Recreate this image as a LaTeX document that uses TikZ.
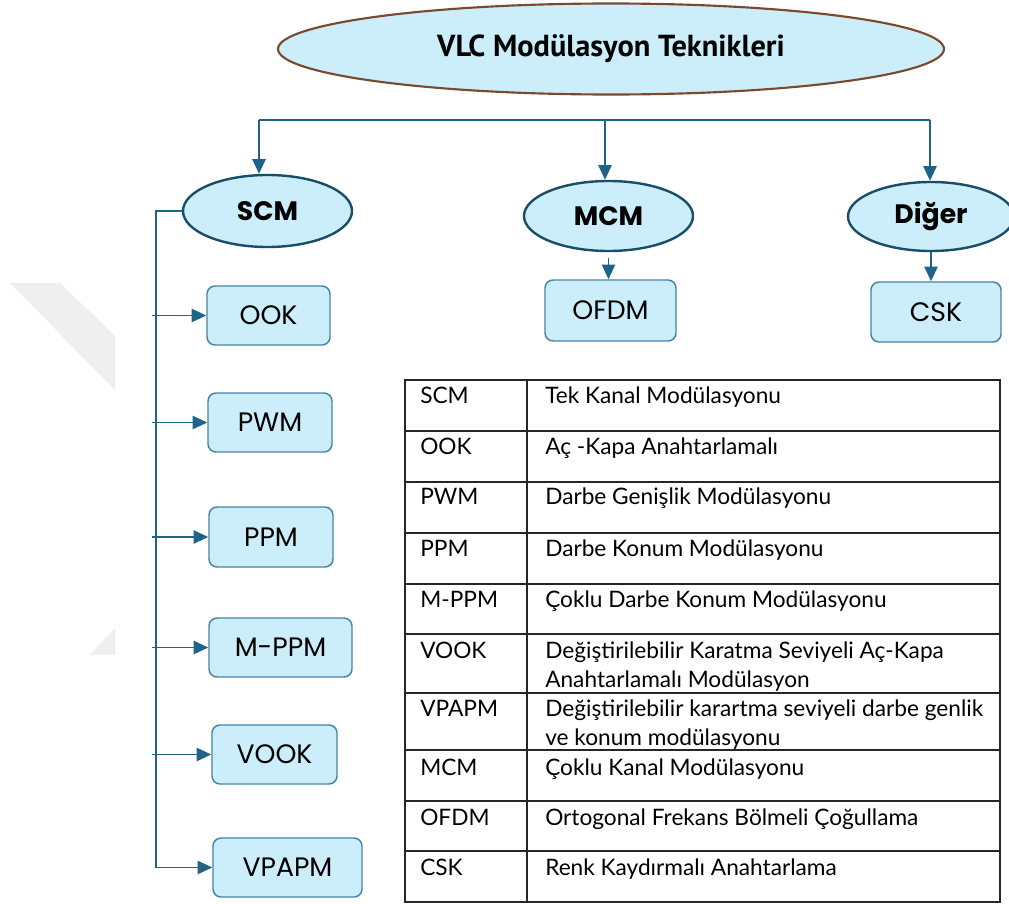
\documentclass[tikz,border=0pt]{standalone}
\usepackage{fontspec}
\setmainfont{Lato}
\newfontfamily\boxfont{Poppins}
\newfontfamily\titlefont{PT Sans}
\usetikzlibrary{shapes.geometric,arrows.meta}
\definecolor{fillblue}{HTML}{CCEEFA}
\definecolor{conncol}{HTML}{1F6389}
\definecolor{ellborder}{HTML}{1A4D68}
\definecolor{boxborder}{HTML}{4784A4}
\definecolor{titleborder}{HTML}{7A4A2E}
\definecolor{wm}{HTML}{EFEFEF}
\begin{document}
\begin{tikzpicture}[x=0.75pt,y=-0.75pt,
 ell/.style={ellipse, draw=ellborder, line width=1.8pt, fill=fillblue, inner sep=0pt, font=\boxfont\bfseries\fontsize{20}{24}\selectfont},
 box/.style={rectangle, rounded corners=6pt, draw=boxborder, line width=1.1pt, fill=fillblue, inner sep=0pt, font=\boxfont\fontsize{20}{24}\selectfont},
 conn/.style={draw=conncol, line width=1.1pt},
 arr/.style={conn, -{Triangle[length=11pt,width=10pt]}},
 cell/.style={anchor=base west, inner sep=0pt, font=\fontsize{17}{21.75}\selectfont},
 grid/.style={draw=black!85, line width=0.9pt}]
\useasboundingbox (0,0) rectangle (1009,903);
% watermark
\fill[wm] (10,283) -- (60,283) -- (115,336) -- (115,390) -- cycle;
\fill[wm] (90,655) -- (115,628) -- (115,655) -- cycle;
% title
\node[ellipse, draw=titleborder, line width=1.6pt, fill=fillblue, inner sep=0pt,
  minimum width=499.5pt, minimum height=68.25pt,
  font=\titlefont\bfseries\fontsize{22.8}{27}\selectfont] (title) at (611,49) {VLC Modülasyon Teknikleri};
% level 1
\node[ell, minimum width=126.75pt, minimum height=54pt] (scm) at (267.5,211) {SCM};
\node[ell, minimum width=126.75pt, minimum height=52.5pt] (mcm) at (608.5,216) {MCM};
\node[ell, minimum width=124.5pt, minimum height=51.75pt] (diger) at (931,216.5) {Diğer};
% boxes
\node[box, minimum width=92.25pt, minimum height=44.25pt] (ook) at (268.5,315.5) {OOK};
\node[box, minimum width=93pt, minimum height=44.25pt] (pwm) at (270,422.5) {PWM};
\node[box, minimum width=93pt, minimum height=45pt] (ppm) at (271,537) {PPM};
\node[box, minimum width=107.25pt, minimum height=44.25pt] (mppm) at (280.5,647.5) {M-PPM};
\node[box, minimum width=93.75pt, minimum height=44.25pt] (vook) at (274.5,754.5) {VOOK};
\node[box, minimum width=111.75pt, minimum height=44.25pt] (vpapm) at (287.5,867.5) {VPAPM};
\node[box, minimum width=98.25pt, minimum height=45.75pt] (ofdm) at (610.5,310.5) {OFDM};
\node[box, minimum width=97.5pt, minimum height=45pt] (csk) at (936,312) {CSK};
% top bus
\coordinate (tb1) at (259,120);
\coordinate (tb2) at (605,120);
\coordinate (tb3) at (930,120);
\draw[conn] (tb1) -- (tb3);
\draw[arr] (tb1) -- (tb1 |- scm.north);
\draw[arr] (tb2) -- (tb2 |- mcm.north);
\draw[arr] (tb3) -- (tb3 |- diger.north);
\draw[arr] ([yshift=-4pt]mcm.south) -- (mcm.south |- ofdm.north);
\draw[arr] (diger.south) -- (diger.south |- csk.north);
% left bus
\coordinate (lb) at (156,0);
\coordinate (ls) at (152,0);
\draw[conn] (scm.west) -| (lb |- vpapm.west);
\draw[arr] (ls |- ook.west) -- (ook.west);
\draw[arr] (ls |- pwm.west) -- (pwm.west);
\draw[arr] (ls |- ppm.west) -- (ppm.west);
\draw[arr] (ls |- mppm.west) -- (mppm.west);
\draw[arr] (ls |- vook.west) -- (vook.west);
\draw[arr] (lb |- vpapm.west) -- (vpapm.west);
% table
\draw[grid] (405,380) rectangle (1000,902);
\draw[grid] (527,380) -- (527,902);
\foreach \yy in {431,482,533,584,634,693,750,801,851}
  \draw[grid] (405,\yy) -- (1000,\yy);
\node[cell] (a1) at (420,403) {SCM};
\node[cell] (b1) at (545,403) {Tek Kanal Modülasyonu};
\node[cell] (a2) at (420,454) {OOK};
\node[cell] (b2) at (545,454) {Aç -Kapa Anahtarlamalı};
\node[cell] (a3) at (420,504) {PWM};
\node[cell] (b3) at (545,504) {Darbe Genişlik Modülasyonu};
\node[cell] (a4) at (420,556) {PPM};
\node[cell] (b4) at (545,556) {Darbe Konum Modülasyonu};
\node[cell] (a5) at (420,607) {M-PPM};
\node[cell] (b5) at (545,607) {Çoklu Darbe Konum Modülasyonu};
\node[cell] (a6) at (420,658) {VOOK};
\node[cell] (b6) at (545,658) {Değiştirilebilir Karatma Seviyeli Aç-Kapa};
\node[cell] (b6b) at (545,687) {Anahtarlamalı Modülasyon};
\node[cell] (a7) at (420,716) {VPAPM};
\node[cell] (b7) at (545,716) {Değiştirilebilir karartma seviyeli darbe genlik};
\node[cell] (b7b) at (545,745) {ve konum modülasyonu};
\node[cell] (a8) at (420,775) {MCM};
\node[cell] (b8) at (545,775) {Çoklu Kanal Modülasyonu};
\node[cell] (a9) at (420,825) {OFDM};
\node[cell] (b9) at (545,825) {Ortogonal Frekans Bölmeli Çoğullama};
\node[cell] (a10) at (420,875) {CSK};
\node[cell] (b10) at (545,875) {Renk Kaydırmalı Anahtarlama};
\end{tikzpicture}
\end{document}
